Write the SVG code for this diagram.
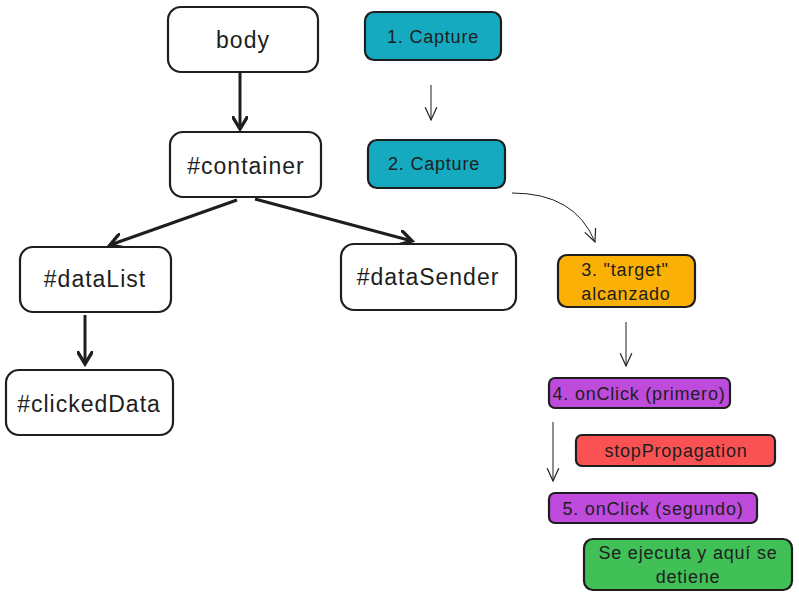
<svg xmlns="http://www.w3.org/2000/svg" width="799" height="596" viewBox="0 0 799 596">
<defs>
<style>
.n{fill:#fff;stroke:#1e1e1e;stroke-width:2.2}
.c{stroke:#1e1e1e;stroke-width:2.2}
text{font-family:"Liberation Sans","Noto Sans",sans-serif;fill:#1e1e1e;text-anchor:middle;dominant-baseline:central}
.big{font-size:23px;letter-spacing:1px}
.sm{font-size:18px;letter-spacing:0.8px}
.thick{fill:none;stroke:#1e1e1e;stroke-width:3}
.thin{fill:none;stroke:#1e1e1e;stroke-width:1}
</style>
<marker id="ah" markerWidth="16" markerHeight="16" refX="10" refY="6" orient="auto" markerUnits="userSpaceOnUse" viewBox="0 0 12 12">
<path d="M0,0 L10,6 L0,12" fill="none" stroke="#1e1e1e" stroke-width="2.5"/>
</marker>
<marker id="ahs" markerWidth="14" markerHeight="14" refX="11" refY="6" orient="auto" markerUnits="userSpaceOnUse" viewBox="0 0 12 12">
<path d="M0,1 L11,6 L0,11" fill="none" stroke="#1e1e1e" stroke-width="1"/>
</marker>
</defs>
<rect width="799" height="596" fill="#fff"/>
<g id="connectors">
<path class="thick" d="M240,73 L240,129" marker-end="url(#ah)"/>
<path class="thick" d="M237,200 L110,245" marker-end="url(#ah)"/>
<path class="thick" d="M255,199 L412,241" marker-end="url(#ah)"/>
<path class="thick" d="M85,315 L85,364" marker-end="url(#ah)"/>
<path class="thin" d="M431,85 L431,120" marker-end="url(#ahs)"/>
<path class="thin" d="M512,193 Q575,193 595,242" marker-end="url(#ahs)"/>
<path class="thin" d="M626,322 L626,366" marker-end="url(#ahs)"/>
<path class="thin" d="M553,422 L553,481" marker-end="url(#ahs)"/>
</g>
<g id="body"><rect class="n" x="168" y="7" width="150" height="65" rx="13"/><text class="big" x="243" y="40">body</text></g>
<g id="container"><rect class="n" x="170" y="132" width="151" height="65" rx="13"/><text class="big" x="246" y="166">#container</text></g>
<g id="dataList"><rect class="n" x="20" y="247" width="151" height="65" rx="13"/><text class="big" x="95" y="279">#dataList</text></g>
<g id="dataSender"><rect class="n" x="341" y="244" width="175" height="66" rx="13"/><text class="big" x="428" y="277">#dataSender</text></g>
<g id="clickedData"><rect class="n" x="6" y="370" width="167" height="65" rx="13"/><text class="big" x="89" y="404">#clickedData</text></g>
<g id="capture1"><rect class="c" x="365" y="12" width="136" height="48" rx="9" fill="#15aabf"/><text class="sm" x="433" y="37">1. Capture</text></g>
<g id="capture2"><rect class="c" x="368" y="140" width="137" height="48" rx="9" fill="#15aabf"/><text class="sm" x="434" y="164">2. Capture</text></g>
<g id="target"><rect class="c" x="558" y="255" width="137" height="52" rx="9" fill="#fab005"/><text class="sm" x="625" y="270">3. "target"</text><text class="sm" x="626" y="294">alcanzado</text></g>
<g id="onclick1"><rect class="c" x="549" y="378" width="181" height="30" rx="6" fill="#be4bdb"/><text class="sm" x="639" y="394">4. onClick (primero)</text></g>
<g id="stop"><rect class="c" x="576" y="435" width="199" height="31" rx="6" fill="#fa5252"/><text class="sm" x="676" y="451">stopPropagation</text></g>
<g id="onclick2"><rect class="c" x="549" y="493" width="208" height="30" rx="6" fill="#be4bdb"/><text class="sm" x="653" y="509">5. onClick (segundo)</text></g>
<g id="stops"><rect class="c" x="584" y="539" width="208" height="51" rx="9" fill="#40c057"/><text class="sm" x="688" y="553">Se ejecuta y aquí se</text><text class="sm" x="688" y="577">detiene</text></g>
</svg>
